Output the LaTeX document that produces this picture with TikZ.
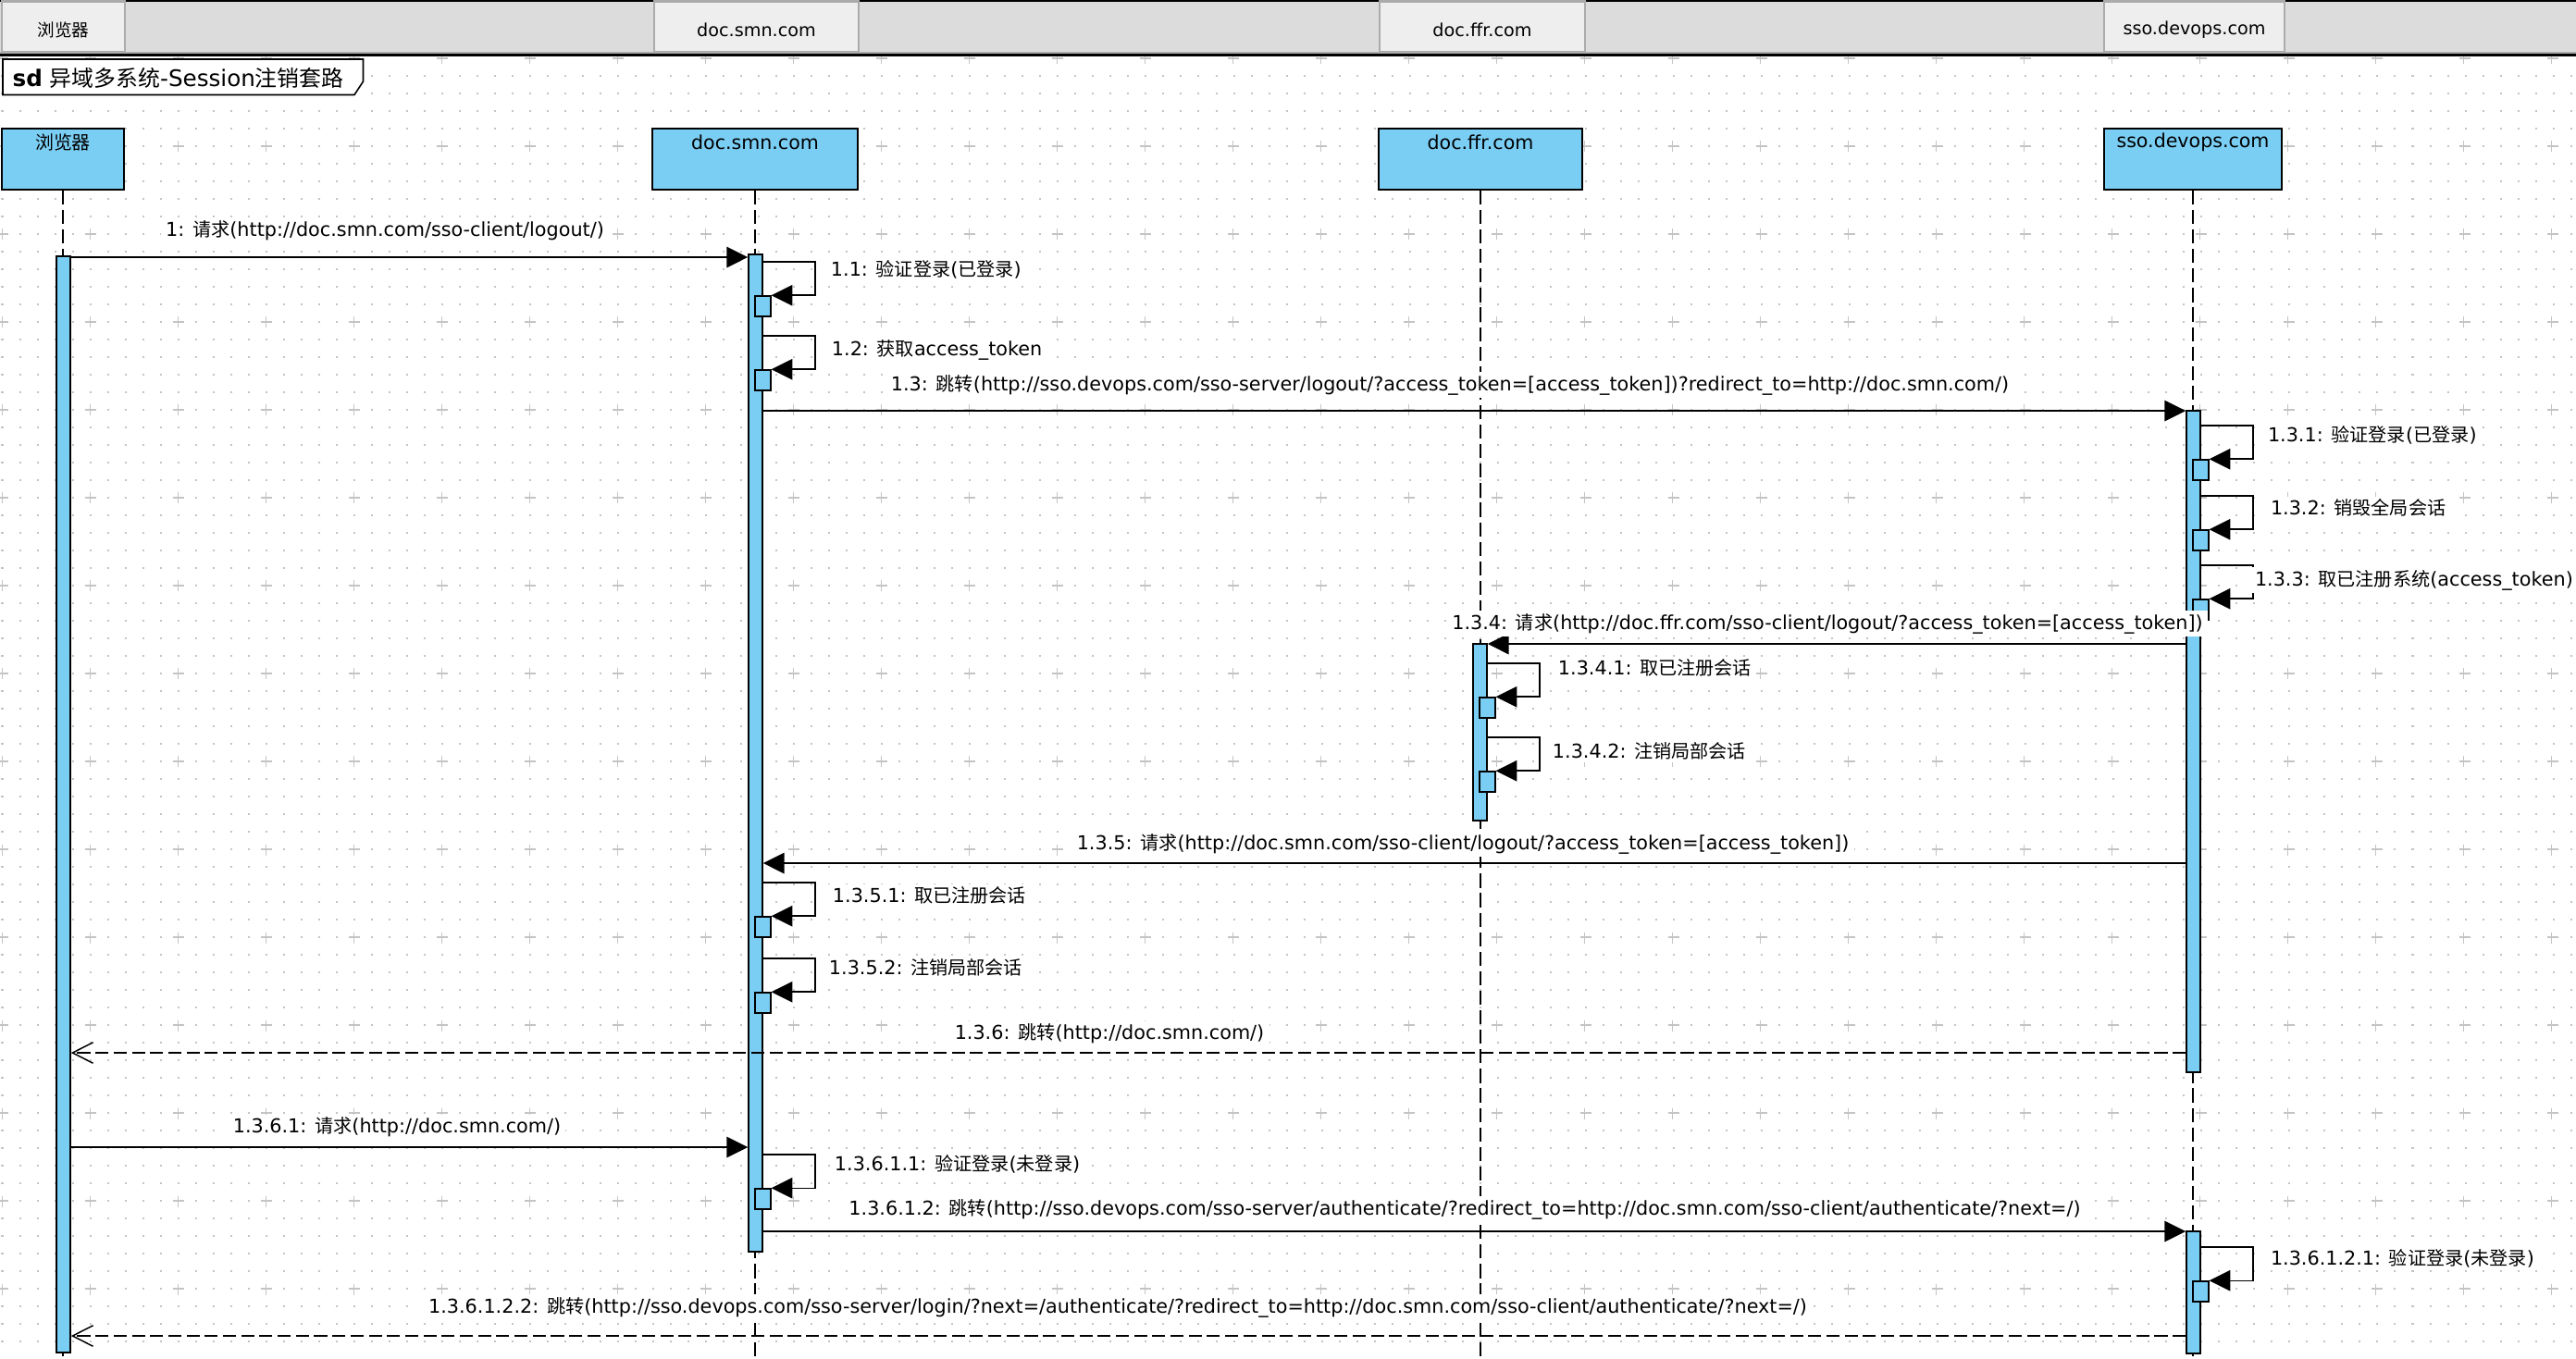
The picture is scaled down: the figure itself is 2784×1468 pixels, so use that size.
\documentclass[tikz,border=0pt]{standalone}
\usepackage{fontspec}
\setmainfont{DejaVu Sans}
\newfontfamily\cjk[Scale=0.97]{Noto Sans CJK SC}
\newcommand\zh[1]{{\cjk #1}}
\usetikzlibrary{arrows.meta,calc,fit}

\definecolor{barblue}{HTML}{7ACEF4}
\definecolor{gridgray}{HTML}{C4C4C4}
\definecolor{headgray}{HTML}{DCDCDC}
\definecolor{headcellfill}{HTML}{EEEEEE}
\definecolor{headcellline}{HTML}{ABABAB}

\tikzset{
  msg/.style={draw=black,line width=0.42pt},
  call/.style={msg,-{Triangle[length=6.5pt,width=6.4pt]}},
  reply/.style={msg,dash pattern=on 4pt off 1.6pt,-{Straight Barb[length=6.3pt,width=6.4pt]}},
  lifeline/.style={black,line width=0.45pt,dash pattern=on 4.3pt off 1.7pt},
  actbar/.style={draw,fill=barblue,line width=0.45pt,inner sep=0pt},
  actsmall/.style={actbar},
  lifebox/.style={draw,fill=barblue,line width=0.5pt,inner sep=0pt},
  lifename/.style={inner sep=0pt,font=\fontsize{5.85pt}{7pt}\selectfont},
  headcell/.style={draw=headcellline,fill=headcellfill,line width=0.6pt,inner sep=0pt},
  headtext/.style={inner sep=0pt,font=\fontsize{5.46pt}{7pt}\selectfont},
  lbl/.style={fill=white,inner xsep=1.5pt,inner ysep=0.8pt,font=\fontsize{5.9pt}{7pt}\selectfont},
  griddot/.style={gridgray,line width=0.57pt,dash pattern=on 0.57pt off 4.837pt},
  gridplus/.style={gridgray,line width=0.37pt,dash pattern=on 3.414pt off 23.616pt}
}

% self message: bar, name, top y, label x, label y, text
\newcommand\selfcall[6]{%
  \node[actsmall,fit={($(#1.west |- 0,#3+37)+(8,0)$) ($(#1.east |- 0,#3+59)+(8,0)$)}] (#2) {};
  \draw[call] (#1.east |- 0,#3) -- ++(56,0) |- (#2.north east);
  \node[lbl,anchor=west] (#2-lbl) at (#4,#5) {#6};
}

\begin{document}
\begin{tikzpicture}[x=0.01cm,y=-0.01cm]
  \useasboundingbox (0,0) rectangle (2784,1468);
  \clip (0,0) rectangle (2784,1468);
  \fill[white] (0,0) rectangle (2784,1468);

  % grid
  \foreach \k in {1,...,73}
    \draw[griddot] (1.5,63+19*\k) -- (2784,63+19*\k);
  \foreach \j in {0,...,14}
    \draw[gridplus] (-3.5,63+95*\j) -- (2784,63+95*\j);
  \foreach \i in {0,...,29}
    \draw[gridplus] (2.5+95*\i,57) -- (2.5+95*\i,1468);

  % header
  \fill[headgray] (0,0) rectangle (2784,58);
  \draw[line width=0.5pt] (0,0.9) -- (2784,0.9);
  \draw[headcellline,line width=0.4pt] (0,57) -- (2784,57);
  \draw[line width=0.7pt] (0,59.5) -- (2784,59.5);
  \node[headcell,fit={(2,1.5) (135,56)}] (brhead) {};
  \node[headcell,fit={(707,1.5) (928,56)}] (smnhead) {};
  \node[headcell,fit={(1491,1.5) (1713,56)}] (ffrhead) {};
  \node[headcell,fit={(2274,1.5) (2469,56)}] (ssohead) {};
  \node[headtext] (brhead-t) at (brhead |- 0,32) {\zh{浏览器}};
  \node[headtext] (smnhead-t) at (smnhead |- 0,32) {doc.smn.com};
  \node[headtext] (ffrhead-t) at (ffrhead |- 0,32) {doc.ffr.com};
  \node[headtext] (ssohead-t) at (ssohead |- 0,32) {sso.devops.com};

  % frame title
  \draw[fill=white,line width=0.45pt] (3,64) -- (392.5,64) -- (392.5,88) -- (383,102.5) -- (3,102.5) -- cycle;
  \node[anchor=west,inner sep=0pt,font=\fontsize{7pt}{8pt}\selectfont] (title) at (13,84)
    {\textbf{sd} \zh{异域多系统}-Session\zh{注销套路}};

  % lifelines
  \node[lifebox,fit={(2,139) (134,205)}] (br) {};
  \node[lifebox,fit={(705,139) (927,205)}] (smn) {};
  \node[lifebox,fit={(1490,139) (1710,205)}] (ffr) {};
  \node[lifebox,fit={(2274,139) (2466,205)}] (sso) {};
  \node[lifename] (br-name) at (br.north |- 0,154) {\zh{浏览器}};
  \node[lifename] (smn-name) at (smn.north |- 0,154) {doc.smn.com};
  \node[lifename] (ffr-name) at (ffr.north |- 0,154) {doc.ffr.com};
  \node[lifename] (sso-name) at (sso.north |- 0,154) {sso.devops.com};
  \foreach \p in {br,smn,ffr,sso}
    \draw[lifeline] (\p.south) -- (\p.south |- 0,1468);

  % activations
  \node[actbar,fit={(61,277) (76,1462)}] (brbar) {};
  \node[actbar,fit={(809,275) (824,1353)}] (smnbar) {};
  \node[actbar,fit={(2363,444) (2378,1159)}] (ssobar) {};
  \node[actbar,fit={(1592,696) (1607,887)}] (ffrbar) {};
  \node[actbar,fit={(2363,1331) (2378,1463)}] (ssobar2) {};

  % messages
  \draw[call] (brbar.east |- 0,278) -- (smnbar.west |- 0,278);
  \node[lbl] (m1) at (416,249) {1: \zh{请求}(http://doc.smn.com/sso-client/logout/)};

  \selfcall{smnbar}{s11}{283}{892}{291}{1.1: \zh{验证登录}(\zh{已登录})}
  \selfcall{smnbar}{s12}{363}{893}{378}{1.2: \zh{获取}access\_token}

  \draw[call] (smnbar.east |- 0,444) -- (ssobar.west |- 0,444);
  \node[lbl] (m13) at (1567,416) {1.3: \zh{跳转}(http://sso.devops.com/sso-server/logout/?access\_token=[access\_token])?redirect\_to=http://doc.smn.com/)};

  \selfcall{ssobar}{s131}{460}{2445}{470}{1.3.1: \zh{验证登录}(\zh{已登录})}
  \selfcall{ssobar}{s132}{536}{2448}{549}{1.3.2: \zh{销毁全局会话}}
  \selfcall{ssobar}{s133}{611}{2431}{627}{1.3.3: \zh{取已注册系统}(access\_token)}

  \draw[call] (ssobar.west |- 0,696) -- (ffrbar.east |- 0,696);
  \node[lbl] (m134) at (1975,674) {1.3.4: \zh{请求}(http://doc.ffr.com/sso-client/logout/?access\_token=[access\_token])};

  \selfcall{ffrbar}{s1341}{717}{1678}{722}{1.3.4.1: \zh{取已注册会话}}
  \selfcall{ffrbar}{s1342}{797}{1672}{812}{1.3.4.2: \zh{注销局部会话}}

  \draw[call] (ssobar.west |- 0,933) -- (smnbar.east |- 0,933);
  \node[lbl] (m135) at (1581,912) {1.3.5: \zh{请求}(http://doc.smn.com/sso-client/logout/?access\_token=[access\_token])};

  \selfcall{smnbar}{s1351}{954}{894}{968}{1.3.5.1: \zh{取已注册会话}}
  \selfcall{smnbar}{s1352}{1036}{890}{1046}{1.3.5.2: \zh{注销局部会话}}

  \draw[reply] (ssobar.west |- 0,1138) -- (brbar.east |- 0,1138);
  \node[lbl] (m136) at (1199,1117) {1.3.6: \zh{跳转}(http://doc.smn.com/)};

  \draw[call] (brbar.east |- 0,1240) -- (smnbar.west |- 0,1240);
  \node[lbl] (m1361) at (429,1218) {1.3.6.1: \zh{请求}(http://doc.smn.com/)};

  \selfcall{smnbar}{s13611}{1248}{896}{1258}{1.3.6.1.1: \zh{验证登录}(\zh{未登录})}

  \draw[call] (smnbar.east |- 0,1331) -- (ssobar2.west |- 0,1331);
  \node[lbl] (m13612) at (1583,1307) {1.3.6.1.2: \zh{跳转}(http://sso.devops.com/sso-server/authenticate/?redirect\_to=http://doc.smn.com/sso-client/authenticate/?next=/)};

  \selfcall{ssobar2}{s136121}{1348}{2448}{1360}{1.3.6.1.2.1: \zh{验证登录}(\zh{未登录})}

  \draw[reply] (ssobar2.west |- 0,1444) -- (brbar.east |- 0,1444);
  \node[lbl] (m136122) at (1208,1413) {1.3.6.1.2.2: \zh{跳转}(http://sso.devops.com/sso-server/login/?next=/authenticate/?redirect\_to=http://doc.smn.com/sso-client/authenticate/?next=/)};
\end{tikzpicture}
\end{document}
